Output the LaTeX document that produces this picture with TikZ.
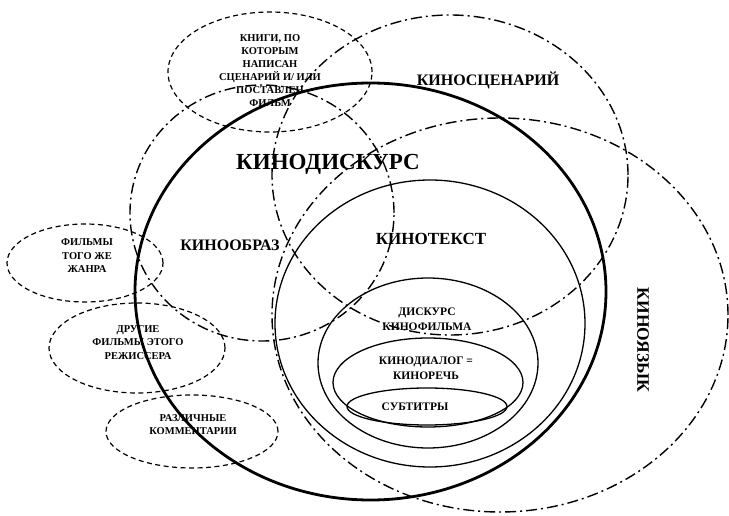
\documentclass[tikz,border=0pt]{standalone}
\usepackage{fontspec}
\setmainfont{Liberation Serif}
\usetikzlibrary{shapes.geometric}

\begin{document}
\begin{tikzpicture}[x=1pt,y=-1pt,
    ring/.style={draw, ellipse, inner sep=0pt, line width=1.3pt},
    boldring/.style={ring, line width=2.8pt},
    dotring/.style={ring, line width=1.4pt, dash pattern=on 11pt off 4pt on 2pt off 4pt},
    dashring/.style={ring, line width=1.2pt, dash pattern=on 5pt off 3.5pt},
    biglabel/.style={font=\fontsize{16}{19}\selectfont\bfseries},
    midlabel/.style={align=center, font=\fontsize{11.5}{15}\selectfont\bfseries},
    smalllabel/.style={align=center, font=\fontsize{10.5}{13.5}\selectfont\bfseries}]

  \useasboundingbox (0,0) rectangle (729,516);

  % dash-dot fields
  \node[dotring, minimum width=356pt, minimum height=320pt] (scenario) at (450,175) {};
  \node[dotring, minimum width=264pt, minimum height=256pt] (image) at (262,213) {};
  \node[dotring, minimum width=456pt, minimum height=394pt] (language) at (500,315) {};

  % kinodiscourse and what lies inside it
  \node[boldring, minimum width=471pt, minimum height=417pt] (discourse) at (370.5,291.5) {};
  \node[ring, minimum width=310pt, minimum height=287pt] (filmtext) at (430,323.5) {};
  \node[ring, minimum width=220pt, minimum height=170pt] (filmdisc) at (428,363) {};
  \node[ring, minimum width=190pt, minimum height=89pt] (dialogue) at (428,382.5) {};
  \node[ring, minimum width=160pt, minimum height=37pt] (subtitles) at (427,406.5) {};

  % outer sources
  \node[dashring, minimum width=204pt, minimum height=120pt] (books) at (270,72) {};
  \node[dashring, minimum width=156pt, minimum height=78pt] (genre) at (85,263) {};
  \node[dashring, minimum width=176pt, minimum height=90pt] (director) at (137,348) {};
  \node[dashring, minimum width=172pt, minimum height=73pt] (comments) at (192,431.5) {};

  % labels
  \node[font=\fontsize{23}{26}\selectfont\bfseries] (discourse-l) at (328,164) {КИНОДИСКУРС};
  \node[biglabel] (scenario-l) at (488,80) {КИНОСЦЕНАРИЙ};
  \node[biglabel] (image-l) at (230,245) {КИНООБРАЗ};
  \node[biglabel, font=\fontsize{17}{20}\selectfont\bfseries] (filmtext-l) at (431,239) {КИНОТЕКСТ};
  \node[biglabel, font=\fontsize{17.5}{20}\selectfont\bfseries, rotate=-90] (language-l) at (643,340) {КИНОЯЗЫК};
  \node[midlabel] (filmdisc-l) at (427,319.5) {ДИСКУРС\\КИНОФИЛЬМА};
  \node[midlabel] (dialogue-l) at (426,368.5) {КИНОДИАЛОГ =\\КИНОРЕЧЬ};
  \node[midlabel] (subtitles-l) at (415,407) {СУБТИТРЫ};
  \node[smalllabel, font=\fontsize{10.5}{13}\selectfont\bfseries] (books-l) at (270,70.5)
    {КНИГИ, ПО\\КОТОРЫМ\\НАПИСАН\\СЦЕНАРИЙ И/ ИЛИ\\ПОСТАВЛЕН\\ФИЛЬМ};
  \node[smalllabel] (genre-l) at (87,256) {ФИЛЬМЫ\\ТОГО ЖЕ\\ЖАНРА};
  \node[smalllabel] (director-l) at (138,342.5) {ДРУГИЕ\\ФИЛЬМЫ ЭТОГО\\РЕЖИССЕРА};
  \node[smalllabel] (comments-l) at (193,424.5) {РАЗЛИЧНЫЕ\\КОММЕНТАРИИ};
\end{tikzpicture}
\end{document}
